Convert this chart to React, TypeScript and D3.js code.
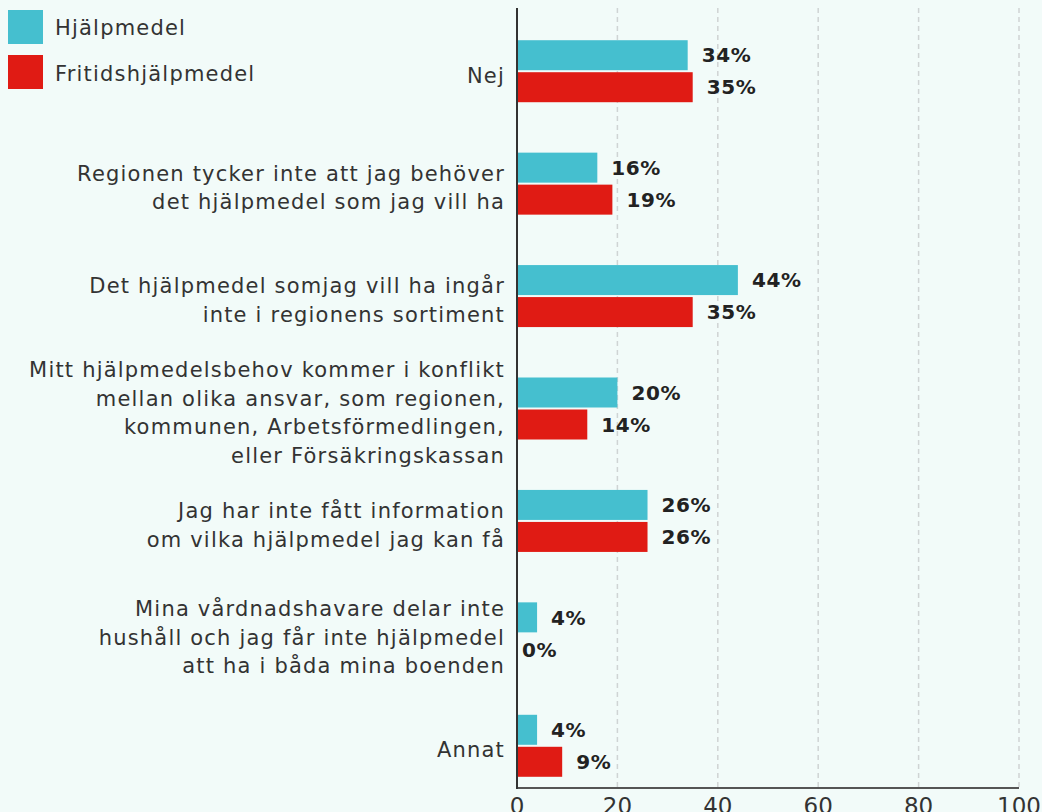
import React from "react";
import * as d3 from "d3";

const categories: string[][] = [
  ["Nej"],
  ["Regionen tycker inte att jag behöver", "det hjälpmedel som jag vill ha"],
  ["Det hjälpmedel somjag vill ha ingår", "inte i regionens sortiment"],
  [
    "Mitt hjälpmedelsbehov kommer i konflikt",
    "mellan olika ansvar, som regionen,",
    "kommunen, Arbetsförmedlingen,",
    "eller Försäkringskassan",
  ],
  ["Jag har inte fått information", "om vilka hjälpmedel jag kan få"],
  ["Mina vårdnadshavare delar inte", "hushåll och jag får inte hjälpmedel", "att ha i båda mina boenden"],
  ["Annat"],
];
const hjalpmedel = [34, 16, 44, 20, 26, 4, 4];
const fritid = [35, 19, 35, 14, 26, 0, 9];
const seriesNames = ["Hjälpmedel", "Fritidshjälpmedel"];
const seriesColors = ["#45bfcf", "#e01b14"];
const xTicks = [0, 20, 40, 60, 80, 100];

const W = 1042;
const H = 812;
const FONT = "'DejaVu Sans', sans-serif";

export default function App() {
  const x = d3.scaleLinear().domain([0, 100]).range([517, 1019]);
  const y = d3
    .scaleBand<number>()
    .domain(d3.range(categories.length))
    .range([15, 802]);
  const barH = 30;
  const gap = 2;
  const series = [hjalpmedel, fritid];
  const axisY = 788;

  return (
    <div style={{ position: "fixed", left: 0, top: 0, width: W, height: H, overflow: "hidden" }}>
      <svg width={W} height={H} style={{ display: "block", background: "#f2fbf9" }}>
        {/* grid */}
        {xTicks.slice(1).map((t) => (
          <line
            key={"g" + t}
            x1={x(t)}
            x2={x(t)}
            y1={8}
            y2={axisY}
            stroke="#cfd4d4"
            strokeWidth={1.5}
            strokeDasharray="5,4"
          />
        ))}
        {/* bars */}
        {categories.map((c, i) => {
          const cy = (y(i) as number) + y.bandwidth() / 2;
          return (
            <g key={"b" + i}>
              {series.map((s, k) => {
                const top = k === 0 ? cy - gap / 2 - barH : cy + gap / 2;
                return (
                  <g key={k}>
                    {s[i] > 0 && (
                      <rect
                        x={x(0)}
                        y={top}
                        width={x(s[i]) - x(0)}
                        height={barH}
                        fill={seriesColors[k]}
                      />
                    )}
                    <text
                      x={x(s[i]) + (s[i] === 0 ? 5 : 14)}
                      y={top + barH / 2}
                      dy="0.36em"
                      fontFamily={FONT}
                      fontWeight="bold"
                      fontSize={20}
                      letterSpacing={0.6}
                      fill="#222"
                    >
                      {s[i] + "%"}
                    </text>
                  </g>
                );
              })}
              <text
                x={505}
                y={cy + 4 - ((c.length - 1) * 28.5) / 2}
                textAnchor="end"
                fontFamily={FONT}
                fontSize={21}
                letterSpacing={1.2}
                fill="#333"
              >
                {c.map((line, j) => (
                  <tspan key={j} x={505} dy={j === 0 ? "0.36em" : 28.5}>
                    {line}
                  </tspan>
                ))}
              </text>
            </g>
          );
        })}
        {/* axes */}
        <line x1={x(0)} x2={x(100)} y1={axisY} y2={axisY} stroke="#555" strokeWidth={2} />
        <line x1={x(0)} x2={x(0)} y1={8} y2={axisY + 1} stroke="#333" strokeWidth={2} />
        {xTicks.map((t) => (
          <text
            key={"t" + t}
            x={x(t)}
            y={814}
            textAnchor="middle"
            fontFamily={FONT}
            fontSize={23}
            fill="#333"
          >
            {t}
          </text>
        ))}
        {/* legend */}
        {seriesNames.map((n, k) => (
          <g key={"l" + k}>
            <rect x={8} y={10 + k * 45} width={35} height={34} fill={seriesColors[k]} />
            <text
              x={55}
              y={27 + k * 46}
              dy="0.36em"
              fontFamily={FONT}
              fontSize={21}
              letterSpacing={1.2}
              fill="#333"
            >
              {n}
            </text>
          </g>
        ))}
      </svg>
    </div>
  );
}
